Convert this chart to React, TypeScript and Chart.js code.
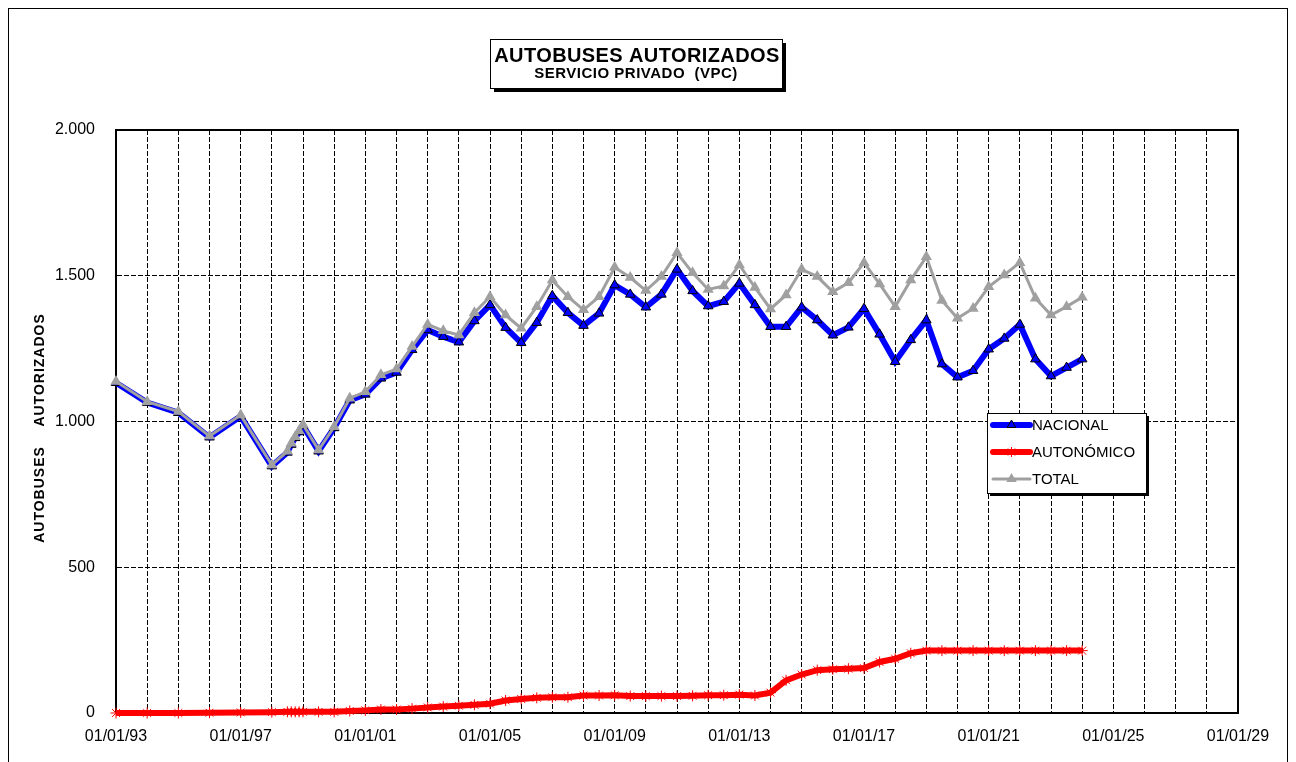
import React, { useEffect, useRef } from 'react';
import { Chart, registerables } from 'chart.js';

Chart.register(...registerables);

// x positions as decimal years (01/01 = .0, 01/07 = .5)
const YEARS = [
  1993, 1994, 1995, 1996, 1997, 1998,
  1998.5, 1998.625, 1998.75, 1998.875, 1999,
  1999.5, 2000, 2000.5, 2001, 2001.5, 2002, 2002.5, 2003, 2003.5, 2004,
  2004.5, 2005, 2005.5, 2006, 2006.5, 2007, 2007.5, 2008, 2008.5, 2009,
  2009.5, 2010, 2010.5, 2011, 2011.5, 2012, 2012.5, 2013, 2013.5, 2014,
  2014.5, 2015, 2015.5, 2016, 2016.5, 2017, 2017.5, 2018, 2018.5, 2019,
  2019.5, 2020, 2020.5, 2021, 2021.5, 2022, 2022.5, 2023, 2023.5, 2024,
];

const NACIONAL = [
  1133, 1065, 1030, 946, 1018, 847,
  894, 921, 944, 964, 986,
  898, 978, 1073, 1093, 1148, 1168, 1246, 1314, 1291, 1272,
  1345, 1400, 1322, 1270, 1339, 1431, 1373, 1329, 1371, 1468,
  1436, 1392, 1436, 1522, 1448, 1396, 1411, 1474, 1400, 1325,
  1325, 1392, 1348, 1296, 1323, 1387, 1299, 1205, 1280, 1348,
  1197, 1152, 1174, 1248, 1285, 1333, 1214, 1156, 1185, 1214,
];

const AUTONOMICO = [
  0, 0, 0, 1, 2, 3,
  4, 4, 4, 4, 4,
  4, 4, 7, 9, 12, 12, 15, 19, 22, 25,
  28, 32, 43, 48, 52, 54, 54, 60, 60, 61,
  58, 58, 58, 58, 59, 61, 61, 63, 60, 70,
  112, 132, 147, 150, 152, 154, 175, 186, 205, 214,
  214, 214, 214, 214, 214, 214, 214, 214, 214, 214,
];

const TOTAL = [
  1137, 1068, 1034, 950, 1022, 851,
  898, 925, 948, 968, 990,
  902, 982, 1080, 1102, 1160, 1180, 1257, 1333, 1311, 1297,
  1373, 1428, 1365, 1320, 1394, 1485, 1428, 1383, 1428, 1529,
  1494, 1449, 1497, 1579, 1510, 1453, 1465, 1537, 1460, 1386,
  1434, 1522, 1497, 1445, 1476, 1545, 1472, 1394, 1485, 1565,
  1415, 1354, 1388, 1462, 1503, 1545, 1423, 1365, 1394, 1426,
];

const SERIES_NAMES = ['NACIONAL', 'AUTONÓMICO', 'TOTAL'];
const X_LABEL_YEARS = [1993, 1997, 2001, 2005, 2009, 2013, 2017, 2021, 2025, 2029];
const Y_TICKS = [0, 500, 1000, 1500, 2000];
const TITLE = 'AUTOBUSES AUTORIZADOS';
const SUBTITLE = 'SERVICIO PRIVADO  (VPC)';
const Y_TITLE = 'AUTOBUSES    AUTORIZADOS';

const FONT = "'Liberation Sans', Arial, sans-serif";
const BLUE = '#0000FF';
const RED = '#FF0000';
const GRAY = '#A0A0A0';

const fmtThousands = (v: number) =>
  v >= 1000 ? `${Math.floor(v / 1000)}.${String(v % 1000).padStart(3, '0')}` : String(v);

const fmtDate = (y: number) => `01/01/${String(y % 100).padStart(2, '0')}`;

function triangle(ctx: CanvasRenderingContext2D, x: number, y: number, r: number) {
  ctx.beginPath();
  for (let i = 0; i < 3; i++) {
    const a = (i * 2 * Math.PI) / 3;
    const px = x + Math.sin(a) * r;
    const py = y - Math.cos(a) * r;
    if (i === 0) ctx.moveTo(px, py);
    else ctx.lineTo(px, py);
  }
  ctx.closePath();
}

function star(ctx: CanvasRenderingContext2D, x: number, y: number, r: number) {
  ctx.beginPath();
  for (let i = 0; i < 4; i++) {
    const a = (i * Math.PI) / 4;
    ctx.moveTo(x + Math.cos(a) * r, y + Math.sin(a) * r);
    ctx.lineTo(x - Math.cos(a) * r, y - Math.sin(a) * r);
  }
}

const deco = {
  id: 'deco',
  beforeDraw(chart: any) {
    const { ctx, width, height } = chart;
    ctx.save();
    ctx.fillStyle = '#fff';
    ctx.fillRect(0, 0, width, height);
    ctx.strokeStyle = '#000';
    ctx.lineWidth = 1;
    ctx.strokeRect(0.5, 0.5, width - 1, height - 1);
    ctx.restore();
  },
  beforeDatasetsDraw(chart: any) {
    const { ctx, chartArea: a } = chart;
    ctx.save();
    ctx.strokeStyle = '#000';
    ctx.lineWidth = 2;
    ctx.strokeRect(a.left, a.top, a.right - a.left, a.bottom - a.top);
    ctx.restore();
  },
  afterDraw(chart: any) {
    const { ctx } = chart;
    ctx.save();
    // Title box
    const tb = { x: 482, y: 31, w: 292, h: 49 };
    ctx.fillStyle = '#000';
    ctx.fillRect(tb.x + 4, tb.y + 4, tb.w, tb.h);
    ctx.fillStyle = '#fff';
    ctx.fillRect(tb.x, tb.y, tb.w, tb.h);
    ctx.strokeStyle = '#000';
    ctx.lineWidth = 1;
    ctx.strokeRect(tb.x + 0.5, tb.y + 0.5, tb.w, tb.h);
    ctx.fillStyle = '#000';
    ctx.textAlign = 'center';
    ctx.textBaseline = 'alphabetic';
    (ctx as any).letterSpacing = '0.4px';
    ctx.font = `bold 20px ${FONT}`;
    ctx.fillText(TITLE, tb.x + tb.w / 2 + 1, 54);
    (ctx as any).letterSpacing = '0.5px';
    ctx.font = `bold 15px ${FONT}`;
    ctx.fillText(SUBTITLE, tb.x + tb.w / 2, 70);

    // Y axis title
    ctx.save();
    ctx.translate(36, 420);
    ctx.rotate(-Math.PI / 2);
    (ctx as any).letterSpacing = '1px';
    ctx.font = `bold 14px ${FONT}`;
    ctx.textAlign = 'center';
    ctx.textBaseline = 'alphabetic';
    ctx.fillText(Y_TITLE, 0, 0);
    ctx.restore();

    // Legend
    (ctx as any).letterSpacing = '0px';
    const lb = { x: 979, y: 405, w: 159, h: 80 };
    ctx.fillStyle = '#000';
    ctx.fillRect(lb.x + 3, lb.y + 3, lb.w, lb.h);
    ctx.fillStyle = '#fff';
    ctx.fillRect(lb.x, lb.y, lb.w, lb.h);
    ctx.strokeStyle = '#000';
    ctx.lineWidth = 1;
    ctx.strokeRect(lb.x + 0.5, lb.y + 0.5, lb.w, lb.h);
    const rows = [417, 444, 471];
    const x0 = 985;
    const x1 = 1022;
    const cx = (x0 + x1) / 2;
    const styles = [
      { color: BLUE, width: 6 },
      { color: RED, width: 6 },
      { color: GRAY, width: 3 },
    ];
    SERIES_NAMES.forEach((name, i) => {
      const y = rows[i];
      ctx.strokeStyle = styles[i].color;
      ctx.lineWidth = styles[i].width;
      ctx.lineCap = 'round';
      ctx.beginPath();
      ctx.moveTo(x0, y);
      ctx.lineTo(x1, y);
      ctx.stroke();
      ctx.lineCap = 'butt';
      if (i === 0) {
        triangle(ctx, cx, y, 5);
        ctx.fillStyle = BLUE;
        ctx.fill();
        ctx.strokeStyle = '#000';
        ctx.lineWidth = 1;
        ctx.stroke();
      } else if (i === 1) {
        star(ctx, cx, y, 5);
        ctx.strokeStyle = RED;
        ctx.lineWidth = 1;
        ctx.stroke();
      } else {
        triangle(ctx, cx, y, 6);
        ctx.fillStyle = GRAY;
        ctx.fill();
      }
      ctx.fillStyle = '#000';
      ctx.font = `15px ${FONT}`;
      ctx.textAlign = 'left';
      ctx.textBaseline = 'middle';
      ctx.fillText(name, 1024, y + 1);
    });
    ctx.restore();
  },
};

export default function App() {
  const ref = useRef<HTMLCanvasElement | null>(null);

  useEffect(() => {
    if (!ref.current) return;
    const pts = (vals: number[]) => YEARS.map((x, i) => ({ x, y: vals[i] }));
    const chart = new Chart(ref.current, {
      type: 'line',
      data: {
        datasets: [
          {
            label: SERIES_NAMES[0],
            data: pts(NACIONAL),
            borderColor: BLUE,
            backgroundColor: BLUE,
            borderWidth: 6,
            pointStyle: 'triangle',
            pointRadius: 5.5,
            pointBackgroundColor: BLUE,
            pointBorderColor: '#000',
            pointBorderWidth: 1,
            tension: 0,
            clip: false,
            order: 2,
          },
          {
            label: SERIES_NAMES[1],
            data: pts(AUTONOMICO),
            borderColor: RED,
            backgroundColor: RED,
            borderWidth: 6,
            pointStyle: 'star',
            pointRadius: 5.5,
            pointBorderColor: RED,
            pointBorderWidth: 1,
            tension: 0,
            clip: false,
            order: 3,
          },
          {
            label: SERIES_NAMES[2],
            data: pts(TOTAL),
            borderColor: GRAY,
            backgroundColor: GRAY,
            borderWidth: 3,
            pointStyle: 'triangle',
            pointRadius: 6.5,
            pointBackgroundColor: GRAY,
            pointBorderColor: GRAY,
            pointBorderWidth: 0,
            tension: 0,
            clip: false,
            order: 1,
          },
        ],
      },
      options: {
        animation: false,
        responsive: false,
        maintainAspectRatio: false,
        layout: { padding: { left: 0, top: 122, right: 50, bottom: 0 } },
        plugins: {
          legend: { display: false },
          title: { display: false },
          tooltip: { enabled: false },
        },
        scales: {
          x: {
            type: 'linear',
            min: 1993,
            max: 2029,
            afterFit: (s: any) => {
              s.height = 75;
            },
            afterBuildTicks: (s: any) => {
              const t = [];
              for (let y = 1993; y <= 2029; y++) t.push({ value: y });
              s.ticks = t;
            },
            ticks: {
              autoSkip: false,
              maxRotation: 0,
              minRotation: 0,
              padding: 14,
              color: '#000',
              font: { family: FONT, size: 16 },
              callback: (v: any) => (X_LABEL_YEARS.includes(Number(v)) ? fmtDate(Number(v)) : ''),
            },
            grid: { color: '#000', lineWidth: 1, drawTicks: false },
            border: { display: true, color: '#000', width: 2, dash: [5, 2] },
          },
          y: {
            min: 0,
            max: 2000,
            afterFit: (s: any) => {
              s.width = 108;
            },
            afterBuildTicks: (s: any) => {
              s.ticks = Y_TICKS.map((v) => ({ value: v }));
            },
            ticks: {
              padding: 21,
              color: '#000',
              font: { family: FONT, size: 16 },
              callback: (v: any) => fmtThousands(Number(v)),
            },
            grid: { color: '#000', lineWidth: 1, drawTicks: false },
            border: { display: true, color: '#000', width: 2, dash: [5, 2] },
          },
        },
      },
      plugins: [deco],
    });
    return () => chart.destroy();
  }, []);

  return (
    <div style={{ position: 'fixed', left: 8, top: 8, width: 1280, height: 780 }}>
      <canvas ref={ref} width={1280} height={780} style={{ width: 1280, height: 780, display: 'block' }} />
    </div>
  );
}
